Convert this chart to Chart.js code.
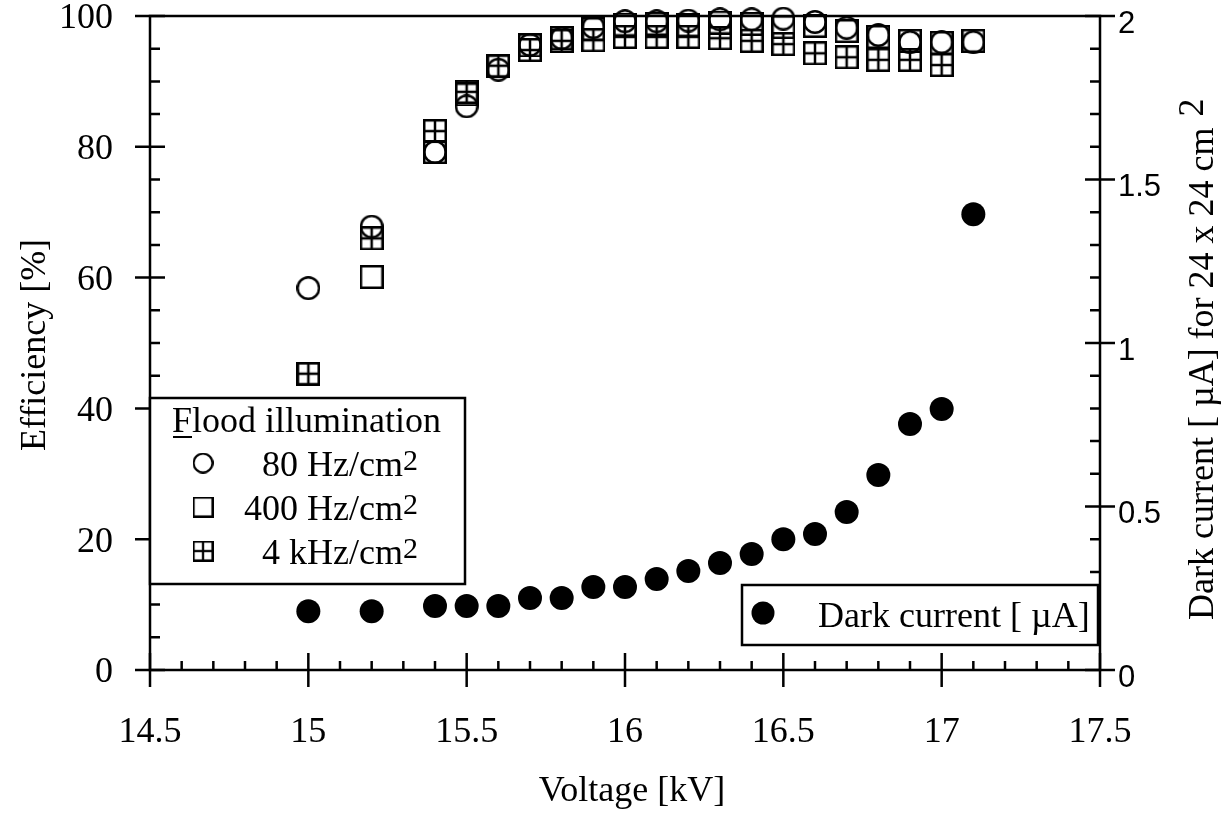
<!DOCTYPE html>
<html><head><meta charset="utf-8">
<script src="https://cdn.jsdelivr.net/npm/chart.js@4.4.0/dist/chart.umd.min.js"></script>
<style>html,body{margin:0;padding:0;background:#fff}#wrap{width:1231px;height:816px;position:relative}</style>
</head><body><div id="wrap"><canvas id="c"></canvas></div>
<script>
// ---- data ----
const voltages    = [15.0, 15.2, 15.4, 15.5, 15.6, 15.7, 15.8, 15.9, 16.0, 16.1, 16.2, 16.3, 16.4, 16.5, 16.6, 16.7, 16.8, 16.9, 17.0, 17.1];
const eff80Hz     = [58.4, 67.8, 79.2, 86.2, 91.8, 95.6, 96.6, 98.3, 99.2, 99.2, 99.3, 99.5, 99.5, 99.6, 99.1, 98.2, 97.1, 96.0, 96.0, 96.0];
const eff400Hz    = [45.3, 60.1, 79.2, 88.0, 92.3, 95.5, 96.6, 98.0, 98.7, 98.8, 98.6, 99.0, 98.8, 98.3, 98.5, 97.7, 96.8, 96.2, 95.9, 96.2];
const eff4kHz     = [45.3, 66.0, 82.4, 88.4, 92.4, 94.8, 96.2, 96.3, 96.8, 96.8, 96.8, 96.6, 96.2, 95.7, 94.3, 93.7, 93.3, 93.3, 92.5, null];
const darkCurrent = [0.18, 0.18, 0.196, 0.196, 0.196, 0.22, 0.22, 0.254, 0.254, 0.278, 0.303, 0.327, 0.355, 0.40, 0.416, 0.483, 0.596, 0.752, 0.798, 1.394];
const floodLabels = ['80 Hz/cm', '400 Hz/cm', '4 kHz/cm'];
const floodTitle  = 'Flood illumination';
const darkLabel   = 'Dark current [ \u00b5A]';
const xTitle      = 'Voltage [kV]';
const yTitle      = 'Efficiency [%]';
const y2Title     = 'Dark current [ \u00b5A] for 24 x 24 cm';

const SERIF = "'Liberation Serif', 'Times New Roman', serif";
const SANS  = "'Liberation Sans', Arial, sans-serif";

function makeMarker(kind, size, lw) {
  const c = document.createElement('canvas');
  c.width = size; c.height = size;
  const g = c.getContext('2d');
  g.strokeStyle = '#000'; g.lineWidth = lw;
  const h = lw / 2;
  if (kind === 'circle') {
    g.beginPath(); g.arc(size / 2, size / 2, size / 2 - h, 0, 2 * Math.PI); g.stroke();
  } else {
    g.strokeRect(h, h, size - lw, size - lw);
    if (kind === 'plus') {
      g.beginPath();
      g.moveTo(size / 2, h); g.lineTo(size / 2, size - h);
      g.moveTo(h, size / 2); g.lineTo(size - h, size / 2);
      g.stroke();
    }
  }
  return c;
}
const mCircle = makeMarker('circle', 24, 2.5);
const mSquare = makeMarker('square', 24, 2.5);
const mPlus   = makeMarker('plus', 24, 2.5);

function pts(ys) {
  const out = [];
  voltages.forEach((v, i) => { if (ys[i] !== null) out.push({x: v, y: ys[i]}); });
  return out;
}
const fmt = v => String(Math.round(v * 10) / 10);
function noPad(s) { s.paddingTop = 0; s.paddingBottom = 0; s.paddingLeft = 0; s.paddingRight = 0; }

const frame = {
  id: 'frame',
  beforeDatasetsDraw(chart) {
    const ctx = chart.ctx, a = chart.chartArea;
    const sx = chart.scales.x, sy = chart.scales.y, s2 = chart.scales.y2;
    ctx.save();
    ctx.strokeStyle = '#000'; ctx.lineWidth = 2.5; ctx.lineCap = 'butt';
    ctx.beginPath();
    ctx.rect(a.left, a.top, a.right - a.left, a.bottom - a.top);
    ctx.stroke();
    ctx.beginPath();
    for (let k = 0; k <= 30; k++) {
      const v = 14.5 + k * 0.1;
      const px = sx.getPixelForValue(v);
      if (k % 5 === 0) { ctx.moveTo(px, a.bottom - 17); ctx.lineTo(px, a.bottom + 17); }
      else { ctx.moveTo(px, a.bottom - 9); ctx.lineTo(px, a.bottom); }
    }
    for (let k = 0; k <= 20; k++) {
      const py = sy.getPixelForValue(k * 5);
      if (k % 4 === 0) { ctx.moveTo(a.left - 15, py); ctx.lineTo(a.left + 15, py); }
      else { ctx.moveTo(a.left, py); ctx.lineTo(a.left + 10, py); }
    }
    for (let k = 0; k <= 20; k++) {
      const py = s2.getPixelForValue(k * 0.1);
      if (k % 5 === 0) { ctx.moveTo(a.right - 15, py); ctx.lineTo(a.right + 15, py); }
      else { ctx.moveTo(a.right - 10, py); ctx.lineTo(a.right, py); }
    }
    ctx.stroke();
    ctx.restore();
  },
  afterDraw(chart) {
    const ctx = chart.ctx;
    ctx.save();
    ctx.fillStyle = '#000'; ctx.strokeStyle = '#000';
    ctx.font = '36px ' + SERIF;
    ctx.textBaseline = 'alphabetic';
    ctx.textAlign = 'center';
    ctx.fillText(xTitle, 632, 801);
    ctx.save(); ctx.translate(45, 345); ctx.rotate(-Math.PI / 2); ctx.fillText(yTitle, 0, 0); ctx.restore();
    ctx.save(); ctx.translate(1213, 620); ctx.rotate(-Math.PI / 2);
    ctx.textAlign = 'left';
    ctx.fillText(y2Title, 0, 0);
    const w = ctx.measureText(y2Title).width;
    ctx.fillText('2', w + 11, -10);
    ctx.restore();

    // flood legend
    ctx.lineWidth = 2.5;
    ctx.fillStyle = '#fff';
    ctx.fillRect(150, 398, 315, 186);
    ctx.strokeRect(150, 398, 315, 186);
    ctx.fillStyle = '#000';
    ctx.textAlign = 'left';
    ctx.font = '36px ' + SERIF;
    ctx.fillText(floodTitle, 172, 432);
    const wF = ctx.measureText('F').width;
    ctx.lineWidth = 2;
    ctx.beginPath(); ctx.moveTo(173, 437); ctx.lineTo(172 + wF, 437); ctx.stroke();
    const marks = [mCircle, mSquare, mPlus];
    const baselines = [476, 520, 564];
    const msize = 21;
    floodLabels.forEach((lab, i) => {
      ctx.drawImage(marks[i], 203 - msize / 2, baselines[i] - 13 - msize / 2, msize, msize);
      ctx.font = '30px ' + SERIF;
      ctx.textAlign = 'right';
      ctx.fillText('2', 418, baselines[i] - 6);
      const w2 = ctx.measureText('2').width;
      ctx.font = '36px ' + SERIF;
      ctx.fillText(lab, 418 - w2, baselines[i]);
    });

    // dark current legend
    ctx.lineWidth = 2.5;
    ctx.fillStyle = '#fff';
    ctx.fillRect(742, 585, 356, 60);
    ctx.strokeRect(742, 585, 356, 60);
    ctx.fillStyle = '#000';
    ctx.beginPath(); ctx.arc(763, 613, 11.5, 0, 2 * Math.PI); ctx.fill();
    ctx.textAlign = 'left';
    ctx.font = '36px ' + SERIF;
    ctx.fillText(darkLabel, 818, 627);
    ctx.restore();
  }
};

new Chart(document.getElementById('c'), {
  type: 'scatter',
  data: {
    datasets: [
      {label: '80 Hz/cm2', data: pts(eff80Hz), yAxisID: 'y', pointStyle: mCircle, pointRadius: 12, clip: false},
      {label: '400 Hz/cm2', data: pts(eff400Hz), yAxisID: 'y', pointStyle: mSquare, pointRadius: 12, clip: false},
      {label: '4 kHz/cm2', data: pts(eff4kHz), yAxisID: 'y', pointStyle: mPlus, pointRadius: 12, clip: false},
      {label: 'Dark current', data: pts(darkCurrent), yAxisID: 'y2', pointStyle: 'circle', pointRadius: 12,
       backgroundColor: '#000', borderColor: '#000', borderWidth: 0, clip: false}
    ]
  },
  options: {
    responsive: true, maintainAspectRatio: false, animation: false,
    devicePixelRatio: 1,
    layout: {padding: {top: 16, left: 0, right: 0, bottom: 0}},
    plugins: {legend: {display: false}, tooltip: {enabled: false}},
    scales: {
      x: {type: 'linear', position: 'bottom', min: 14.5, max: 17.5,
          grid: {display: false, drawTicks: false}, border: {display: false},
          ticks: {stepSize: 0.5, autoSkip: false, maxRotation: 0, color: '#000', padding: 41,
                  font: {family: SERIF, size: 36}, callback: fmt},
          afterFit(s) { s.height = 146; noPad(s); }},
      y: {type: 'linear', position: 'left', min: 0, max: 100,
          grid: {display: false, drawTicks: false}, border: {display: false},
          ticks: {stepSize: 20, color: '#000', padding: 37, labelOffset: 3, font: {family: SERIF, size: 36}, callback: fmt},
          afterFit(s) { s.width = 150; noPad(s); }},
      y2: {type: 'linear', position: 'right', min: 0, max: 2,
          grid: {display: false, drawTicks: false}, border: {display: false},
          ticks: {stepSize: 0.5, color: '#000', padding: 18, labelOffset: 8, font: {family: SANS, size: 31}, callback: fmt},
          afterFit(s) { s.width = 131; noPad(s); }}
    }
  },
  plugins: [frame]
});
</script></body></html>
